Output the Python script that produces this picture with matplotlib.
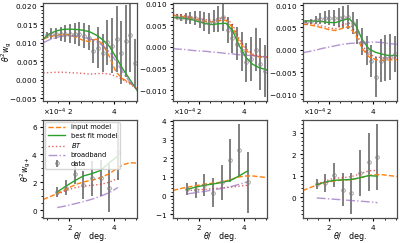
import numpy as np
import matplotlib
matplotlib.use('Agg')
import matplotlib.pyplot as plt

# theta bins for w_g (top row) and w_g+ (bottom row)
theta_g = [0.98, 1.19, 1.40, 1.60, 1.81, 2.02, 2.23, 2.44, 2.65, 2.86,
           3.07, 3.28, 3.49, 3.70, 3.91, 4.12, 4.33, 4.54, 4.74, 4.95]
theta_gp = [1.45, 1.84, 2.23, 2.62, 3.01, 3.40, 3.79, 4.18]
theta_model = [0.82, 1.1, 1.4, 1.7, 2.0, 2.3, 2.6, 2.9, 3.2, 3.5, 3.8, 4.1, 4.4, 4.7, 5.05]

# ---- top row : theta^2 w_g
wg_data = [
    [0.0122, 0.0125, 0.0125, 0.0124, 0.0124, 0.0125, 0.0125, 0.0124, 0.0119, 0.0114,
     0.0078, 0.0087, 0.0073, 0.0101, 0.0092, 0.0110, 0.0073, 0.0105, 0.0121, 0.0044],
    [0.0070, 0.0068, 0.0066, 0.0068, 0.0067, 0.0063, 0.0058, 0.0055, 0.0060, 0.0065,
     0.0070, 0.0040, 0.0020, 0.0008, -0.0010, -0.0035, -0.0028, -0.0006, -0.0040, -0.0055],
    [0.0063, 0.0064, 0.0066, 0.0070, 0.0072, 0.0072, 0.0071, 0.0072, 0.0073, 0.0074,
     0.0060, 0.0040, 0.0018, -0.0002, -0.0025, -0.0062, -0.0025, -0.0018, -0.0016, -0.0010],
]
wg_err = [
    [0.0007, 0.0014, 0.0014, 0.0020, 0.0023, 0.0025, 0.0028, 0.0032, 0.0034, 0.0035,
     0.0033, 0.0055, 0.0052, 0.0062, 0.0075, 0.0089, 0.0085, 0.0097, 0.0101, 0.0066],
    [0.0006, 0.0008, 0.0012, 0.0014, 0.0016, 0.0020, 0.0022, 0.0024, 0.0026, 0.0030,
     0.0032, 0.0030, 0.0033, 0.0038, 0.0045, 0.0045, 0.0050, 0.0050, 0.0060, 0.0060],
    [0.0004, 0.0006, 0.0009, 0.0012, 0.0014, 0.0016, 0.0018, 0.0022, 0.0025, 0.0027,
     0.0025, 0.0028, 0.0030, 0.0033, 0.0036, 0.0045, 0.0048, 0.0052, 0.0052, 0.0040],
]
wg_input = [
    [0.0110, 0.0116, 0.0120, 0.0122, 0.0121, 0.0115, 0.0107, 0.0103, 0.0110, 0.0096,
     0.0062, 0.0020, 0.0002, -0.0008, -0.0026],
    [0.0073, 0.0072, 0.0069, 0.0066, 0.0062, 0.0059, 0.0058, 0.0061, 0.0062, 0.0045,
     0.0013, -0.0008, -0.0019, -0.0023, -0.0024],
    [0.0057, 0.0056, 0.0053, 0.0049, 0.0045, 0.0043, 0.0048, 0.0052, 0.0033, 0.0002,
     -0.0016, -0.0022, -0.0024, -0.0023, -0.0022],
]
wg_best = [
    [0.0110, 0.0124, 0.0132, 0.0136, 0.0137, 0.0136, 0.0134, 0.0130, 0.0121, 0.0108,
     0.0090, 0.0060, 0.0029, 0.0002, -0.0030],
    [0.0068, 0.0068, 0.0066, 0.0063, 0.0058, 0.0054, 0.0052, 0.0054, 0.0055, 0.0038,
     0.0003, -0.0024, -0.0040, -0.0048, -0.0053],
    [0.0064, 0.0065, 0.0064, 0.0063, 0.0061, 0.0061, 0.0066, 0.0070, 0.0055, 0.0022,
     0.0002, -0.0006, -0.0010, -0.0013, -0.0013],
]
wg_bt = [
    [0.0018, 0.0019, 0.0020, 0.0020, 0.0019, 0.0018, 0.0017, 0.0015, 0.0016, 0.0017,
     0.0015, 0.0009, 0.0000, -0.0011, -0.0026],
    [0.0076, 0.0075, 0.0072, 0.0069, 0.0066, 0.0063, 0.0062, 0.0066, 0.0068, 0.0052,
     0.0019, -0.0004, -0.0016, -0.0021, -0.0023],
    [0.0060, 0.0059, 0.0057, 0.0053, 0.0049, 0.0047, 0.0055, 0.0060, 0.0040, 0.0009,
     -0.0010, -0.0016, -0.0018, -0.0019, -0.0019],
]
wg_bb = [
    [0.0100, 0.0108, 0.0114, 0.0118, 0.0119, 0.0118, 0.0115, 0.0111, 0.0104, 0.0092,
     0.0075, 0.0050, 0.0020, -0.0005, -0.0027],
    [-0.0004, -0.0005, -0.0006, -0.0008, -0.0009, -0.0010, -0.0012, -0.0013, -0.0015, -0.0016,
     -0.0018, -0.0019, -0.0020, -0.0022, -0.0023],
    [-0.0007, -0.0004, -0.0001, 0.0003, 0.0006, 0.0009, 0.0012, 0.0014, 0.0015, 0.0016,
     0.0017, 0.0017, 0.0016, 0.0014, 0.0012],
]

# ---- bottom row : theta^2 w_g+  (in units of 1e-4)
wgp_data = [
    [1.30, 1.62, 2.60, 1.78, 2.28, 2.28, 1.58, 4.18],
    [0.35, 0.30, 0.58, 0.14, 0.70, 1.90, 2.45, 0.70],
    [0.61, 0.65, 1.02, 0.35, 0.18, 1.14, 1.63, 1.87],
]
wgp_err = [
    [0.35, 0.55, 0.75, 1.00, 1.25, 1.30, 1.75, 2.05],
    [0.30, 0.45, 0.60, 0.78, 0.95, 1.15, 1.40, 1.62],
    [0.25, 0.40, 0.55, 0.75, 0.95, 1.07, 1.33, 1.55],
]
wgp_input = [
    [0.76, 0.95, 1.15, 1.38, 1.62, 1.85, 2.00, 2.12, 2.22, 2.40, 2.62, 2.95, 3.25, 3.40, 3.38],
    [0.27, 0.36, 0.43, 0.50, 0.56, 0.62, 0.66, 0.70, 0.78, 0.89, 1.00, 1.05, 1.05, 1.01, 0.96],
    [0.30, 0.42, 0.54, 0.64, 0.71, 0.76, 0.79, 0.81, 0.85, 0.93, 1.01, 1.04, 1.04, 1.00, 0.96],
]
wgp_best = [
    [1.30, 1.72, 2.10, 2.45, 2.62, 2.85, 3.40, 3.88],
    [0.33, 0.45, 0.55, 0.62, 0.70, 0.80, 1.05, 1.32],
    [0.58, 0.70, 0.78, 0.80, 0.82, 0.90, 1.00, 0.97],
]
wgp_bt = [
    [1.12, 1.40, 1.60, 1.72, 1.78, 1.85, 2.00, 2.28],
    [0.26, 0.30, 0.33, 0.37, 0.41, 0.45, 0.50, 0.55],
    [0.60, 0.75, 0.88, 0.90, 0.95, 1.08, 1.22, 1.24],
]
wgp_bb = [
    [0.18, 0.30, 0.45, 0.60, 0.78, 1.00, 1.25, 1.62],
    [0.09, 0.15, 0.22, 0.30, 0.38, 0.47, 0.60, 0.74],
    [-0.04, -0.07, -0.10, -0.13, -0.16, -0.19, -0.22, -0.26],
]

top_ylims = [(-0.0058, 0.0208), (-0.0125, 0.0102), (-0.0115, 0.0105)]
bot_ylims = [(-0.55e-4, 6.5e-4), (-1.19e-4, 4.07e-4), (-0.96e-4, 3.6e-4)]

plt.rcParams['font.size'] = 5.2
plt.rcParams['axes.formatter.use_mathtext'] = True
plt.rcParams['xtick.minor.visible'] = True
plt.rcParams['ytick.minor.visible'] = True
plt.rcParams['xtick.major.size'] = 2.5
plt.rcParams['ytick.major.size'] = 2.5
plt.rcParams['xtick.minor.size'] = 1.2
plt.rcParams['ytick.minor.size'] = 1.2
plt.rcParams['xtick.major.pad'] = 1.5
plt.rcParams['ytick.major.pad'] = 1.5

fig, axes = plt.subplots(2, 3, figsize=(4, 2.43), dpi=100)
fig.subplots_adjust(left=0.108, right=0.992, bottom=0.104, top=0.988, wspace=0.38, hspace=0.19)


def draw(ax, xd, yd, ed, xm_in, y_in, xm, y_best, y_bt, y_bb, scale=1.0):
    ax.errorbar(xd, np.array(yd) * scale, yerr=np.array(ed) * scale, fmt='o', color='0.25',
                ms=2.6, mfc='none', mec='0.5', mew=0.6, elinewidth=1.1, alpha=0.85,
                label='data')
    ax.plot(xm_in, np.array(y_in) * scale, '--', color='C1', lw=1.0, label='input model')
    ax.plot(xm, np.array(y_best) * scale, '-', color='C2', lw=1.0, label='best fit model')
    ax.plot(xm, np.array(y_bt) * scale, ':', color='C3', lw=1.0, alpha=0.7, label=r'$BT$')
    ax.plot(xm, np.array(y_bb) * scale, '-.', color='C4', lw=1.0, alpha=0.7, label='broadband')
    ax.set_xlim(0.82, 5.05)
    ax.set_xticks([2, 4])
    for s in ax.spines.values():
        s.set_color('0.3')
        s.set_linewidth(0.9)


for i in range(3):
    ax = axes[0, i]
    draw(ax, theta_g, wg_data[i], wg_err[i], theta_model, wg_input[i],
         theta_model, wg_best[i], wg_bt[i], wg_bb[i])
    ax.set_yticks(np.arange(-0.010, 0.0201, 0.005))
    ax.set_ylim(*top_ylims[i])

    ax = axes[1, i]
    draw(ax, theta_gp, wgp_data[i], wgp_err[i], theta_model, wgp_input[i],
         theta_gp, wgp_best[i], wgp_bt[i], wgp_bb[i], scale=1e-4)
    ax.set_ylim(*bot_ylims[i])
    ax.ticklabel_format(axis='y', style='sci', scilimits=(-3, 3))
    ax.yaxis.get_offset_text().set_fontsize(5.0)
    ax.set_xlabel(r'$\theta/\quad$deg.', fontsize=5.8, labelpad=-1.5)

axes[0, 0].set_ylabel(r'$\theta^2 w_{\rm g}$', fontsize=5.6)
axes[0, 0].yaxis.set_label_coords(-0.31, 0.5)
axes[1, 0].set_ylabel(r'$\theta^2 w_{\rm g+}$', fontsize=5.6)
axes[1, 0].yaxis.set_label_coords(-0.11, 0.5)

axes[1, 0].legend(loc='upper left', fontsize=4.8, handlelength=2.6,
                  borderaxespad=0.3, labelspacing=0.35)

plt.savefig('out.png', dpi=100)
